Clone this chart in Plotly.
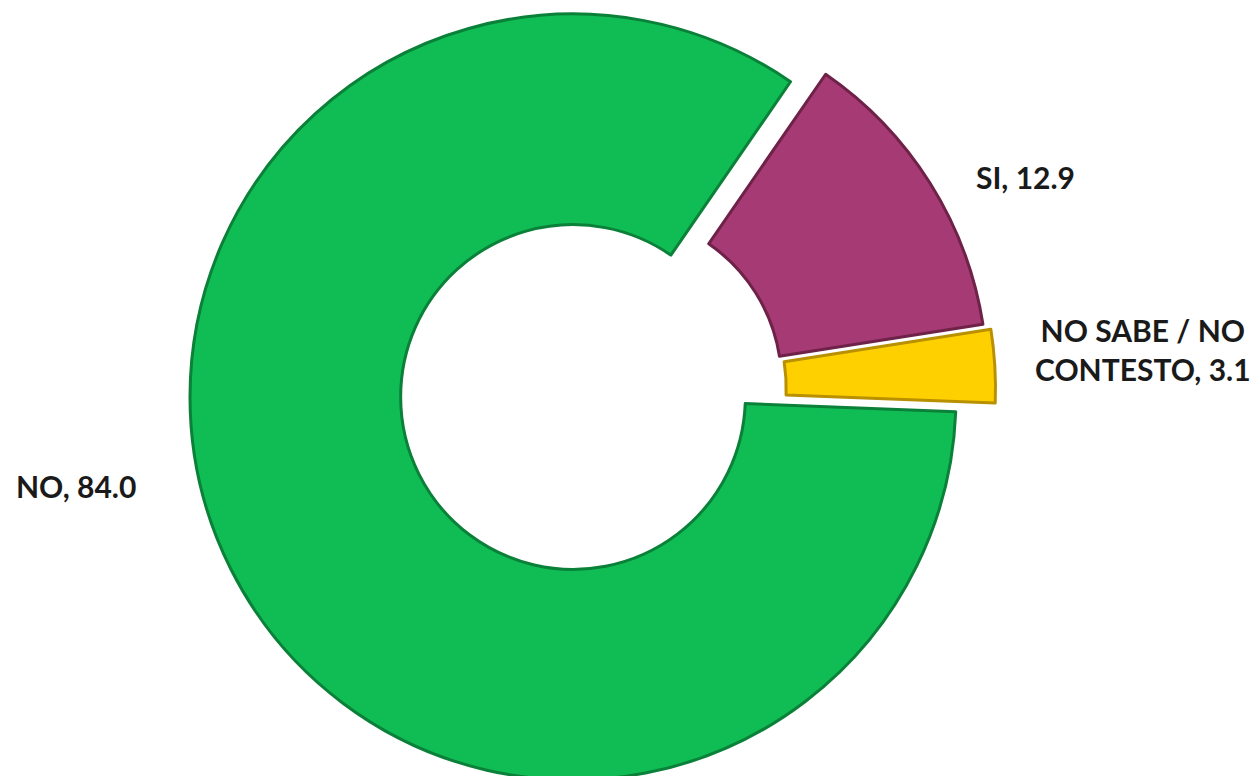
import plotly.graph_objects as go

# Data
labels = ["SI", "NO SABE / NO CONTESTO", "NO"]
label_text = ["SI", "NO SABE / NO<br>CONTESTO", "NO"]
values = [12.9, 3.1, 84.0]
colors = ["#A63A74", "#FFD000", "#10BD55"]
edge_colors = ["#6E2248", "#B89000", "#0A8038"]

W, H = 1260, 776
OFF = 8  # page body margin offset
R = 383  # outer radius in px
# slice centres (px, from top-left of the page) to reproduce the exploded look
centres = [(613, 374), (615, 386), (573, 397)]
label_pos = [(1025, 177), (1143, 349), (76, 486)]

fig = go.Figure()
for i, (cx, cy) in enumerate(centres):
    cx -= OFF
    cy -= OFF
    cols = ["rgba(0,0,0,0)"] * len(values)
    cols[i] = colors[i]
    lcols = ["rgba(0,0,0,0)"] * len(values)
    lcols[i] = edge_colors[i]
    lw = [0] * len(values)
    lw[i] = 3
    fig.add_trace(go.Pie(
        labels=labels,
        values=values,
        sort=False,
        direction="clockwise",
        rotation=34.6,
        hole=0.45,
        marker=dict(colors=cols, line=dict(color=lcols, width=lw)),
        textinfo="none",
        hoverinfo="label+value",
        showlegend=False,
        domain=dict(
            x=[(cx - R) / W, (cx + R) / W],
            y=[max(0, 1 - (cy + R) / H), min(1, 1 - (cy - R) / H)],
        ),
    ))

for i, (px, py) in enumerate(label_pos):
    fig.add_annotation(
        x=(px - OFF) / W, y=1 - (py - OFF) / H, xref="paper", yref="paper",
        text=f"<b>{label_text[i]}, {values[i]:.1f}</b>",
        showarrow=False, xanchor="center", yanchor="middle",
        font=dict(family="Lato", size=30, color="#1a1a1a"),
        align="center",
    )

fig.update_layout(
    width=W, height=H,
    margin=dict(l=0, r=0, t=0, b=0),
    paper_bgcolor="white", plot_bgcolor="white",
)
fig.write_html("out.html")
